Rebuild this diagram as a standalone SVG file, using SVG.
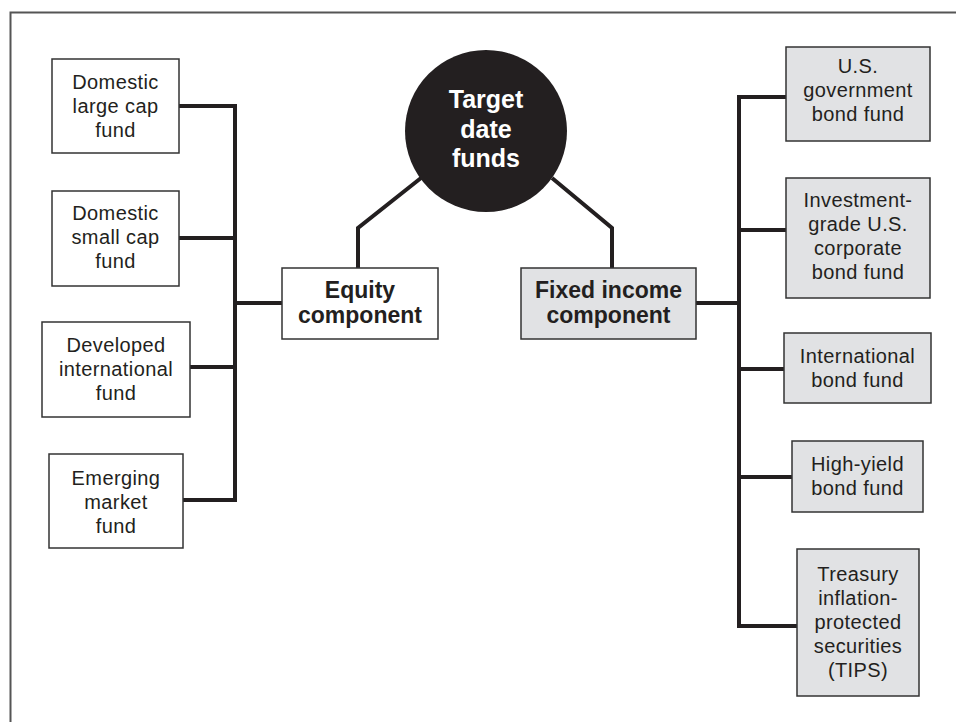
<svg xmlns="http://www.w3.org/2000/svg" width="956" height="722" viewBox="0 0 956 722">
<style>
.box{fill:#ffffff;stroke:#333333;stroke-width:1.5}
.gbox{fill:#e1e2e4;stroke:#333333;stroke-width:1.5}
.t{font-family:"Liberation Sans",Arial,sans-serif;font-size:20px;letter-spacing:0.4px;fill:#231f20;text-anchor:middle}
.b{font-family:"Liberation Sans",Arial,sans-serif;font-size:23px;font-weight:bold;fill:#231f20;text-anchor:middle}
.w{font-family:"Liberation Sans",Arial,sans-serif;font-size:25px;font-weight:bold;fill:#ffffff;text-anchor:middle}
.c{fill:none;stroke:#231f20;stroke-width:4;stroke-linejoin:miter}
</style>
<rect x="0" y="0" width="956" height="722" fill="#ffffff"/>
<path d="M10.5,722 V12.5 H956" fill="none" stroke="#555555" stroke-width="2"/>
<g id="connectors">
<path class="c" d="M179,106 H235 V500 H183 M179,238 H235 M190,367 H235 M235,303 H282"/>
<path class="c" d="M421,178 L358,228 V268"/>
<path class="c" d="M552,178 L612,228 V268"/>
<path class="c" d="M696,303 H739 M786,97 H739 V626 H797 M739,230 H786 M739,369 H784 M739,477 H792"/>
</g>
<g id="target">
<circle cx="486" cy="131" r="81" fill="#231f20"/>
<text class="w" x="486" y="108">Target</text>
<text class="w" x="486" y="138">date</text>
<text class="w" x="486" y="167">funds</text>
</g>
<g id="equity">
<rect class="box" x="282" y="268" width="156" height="71"/>
<text class="b" x="360" y="298">Equity</text>
<text class="b" x="360" y="323">component</text>
</g>
<g id="fixed">
<rect class="gbox" x="521" y="268" width="175" height="71"/>
<text class="b" x="608.5" y="298">Fixed income</text>
<text class="b" x="608.5" y="323">component</text>
</g>
<g id="dom-large">
<rect class="box" x="52" y="59" width="127" height="94"/>
<text class="t" x="115.5" y="89">Domestic</text>
<text class="t" x="115.5" y="113">large cap</text>
<text class="t" x="115.5" y="137">fund</text>
</g>
<g id="dom-small">
<rect class="box" x="52" y="191" width="127" height="95"/>
<text class="t" x="115.5" y="220">Domestic</text>
<text class="t" x="115.5" y="244">small cap</text>
<text class="t" x="115.5" y="268">fund</text>
</g>
<g id="developed">
<rect class="box" x="42" y="322" width="148" height="95"/>
<text class="t" x="116" y="352">Developed</text>
<text class="t" x="116" y="376">international</text>
<text class="t" x="116" y="400">fund</text>
</g>
<g id="emerging">
<rect class="box" x="49" y="454" width="134" height="94"/>
<text class="t" x="116" y="485">Emerging</text>
<text class="t" x="116" y="509">market</text>
<text class="t" x="116" y="533">fund</text>
</g>
<g id="us-gov">
<rect class="gbox" x="786" y="47" width="144" height="94"/>
<text class="t" x="858" y="73">U.S.</text>
<text class="t" x="858" y="97">government</text>
<text class="t" x="858" y="121">bond fund</text>
</g>
<g id="corp">
<rect class="gbox" x="786" y="178" width="144" height="120"/>
<text class="t" x="858" y="207">Investment-</text>
<text class="t" x="858" y="231">grade U.S.</text>
<text class="t" x="858" y="255">corporate</text>
<text class="t" x="858" y="279">bond fund</text>
</g>
<g id="intl-bond">
<rect class="gbox" x="784" y="333" width="147" height="70"/>
<text class="t" x="857.5" y="363">International</text>
<text class="t" x="857.5" y="387">bond fund</text>
</g>
<g id="high-yield">
<rect class="gbox" x="792" y="441" width="131" height="71"/>
<text class="t" x="857.5" y="471">High-yield</text>
<text class="t" x="857.5" y="495">bond fund</text>
</g>
<g id="tips">
<rect class="gbox" x="797" y="549" width="122" height="147"/>
<text class="t" x="858" y="581">Treasury</text>
<text class="t" x="858" y="605">inflation-</text>
<text class="t" x="858" y="629">protected</text>
<text class="t" x="858" y="653">securities</text>
<text class="t" x="858" y="677">(TIPS)</text>
</g>
</svg>
